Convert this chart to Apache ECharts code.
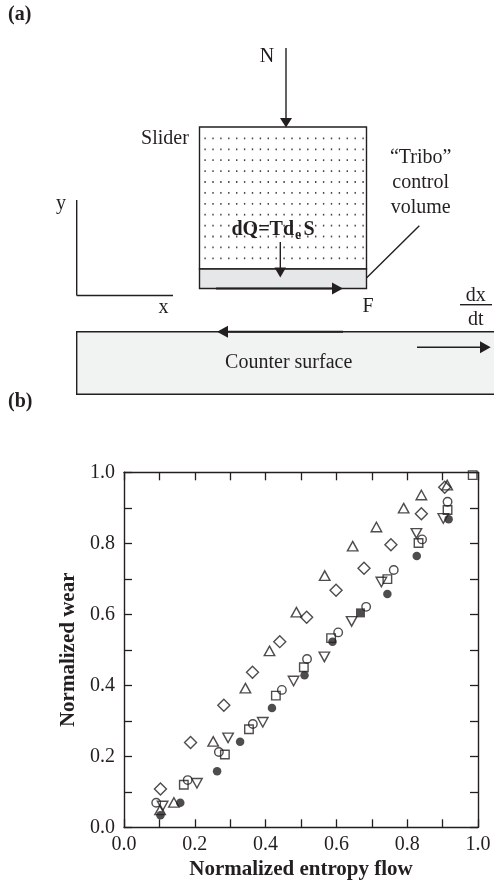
<!DOCTYPE html>
<html>
<head>
<meta charset="utf-8">
<style>html,body{margin:0;padding:0;background:#fff}#c{width:494px;height:880px}</style>
<script src="https://cdn.jsdelivr.net/npm/echarts@6/dist/echarts.min.js"></script>
</head>
<body>
<div id="c"></div>
<script>
const diamonds = [[.103,.108],[.188,.239],[.282,.344],[.363,.437],[.440,.523],[.516,.592],[.599,.668],[.678,.730],[.754,.796],[.840,.883],[.906,.958]];
const upTriangles = [[.102,.049],[.141,.070],[.252,.242],[.343,.392],[.411,.497],[.487,.606],[.567,.709],[.646,.792],[.713,.846],[.790,.899],[.840,.936],[.913,.964]];
const openCircles = [[.091,.069],[.180,.133],[.268,.212],[.364,.291],[.446,.387],[.517,.474],[.605,.549],[.684,.621],[.762,.725],[.842,.811],[.914,.917]];
const openSquares = [[.169,.120],[.285,.205],[.353,.276],[.429,.371],[.508,.451],[.585,.533],[.744,.699],[.832,.801],[.914,.894],[.985,.992]];
const filledSquares = [[.668,.604]];
const downTriangles = [[.109,.060],[.206,.124],[.294,.252],[.392,.296],[.479,.412],[.566,.480],[.643,.580],[.727,.691],[.826,.828],[.902,.870]];
const filledCircles = [[.103,.034],[.159,.069],[.263,.158],[.328,.241],[.418,.336],[.510,.428],[.589,.523],[.744,.657],[.827,.764],[.917,.868]];
const xTitle = 'Normalized entropy flow';
const yTitle = 'Normalized wear';

const INK = '#231f20';
const SERIF = '"Liberation Serif","Times New Roman",serif';
const hollow = {color:'rgba(255,255,255,0)', borderColor:INK, borderWidth:1.4};
const solid = {color:INK, borderColor:INK, borderWidth:0};
function mk(name,data,symbol,size,style,rot){
  return {name,type:'scatter',data,symbol,symbolSize:size,symbolRotate:rot||0,itemStyle:style,silent:true,clip:false,animation:false};
}

function txt(text,x,y,o){
  o=o||{};
  return {type:'text',x,y:y+1.5,silent:true,style:{text,font:(o.bold?'bold ':'')+(o.size||20)+'px '+SERIF,fill:INK,
    textAlign:o.align||'center',textVerticalAlign:'middle'}};
}
function ln(x1,y1,x2,y2,w){
  return {type:'line',silent:true,shape:{x1,y1,x2,y2},style:{stroke:INK,lineWidth:w||1.4}};
}
function head(pts){
  return {type:'polygon',silent:true,shape:{points:pts},style:{fill:INK}};
}
function box(x,y,width,height,fill){
  return {type:'rect',silent:true,shape:{x,y,width,height},style:{fill,stroke:INK,lineWidth:1.4}};
}

const g = [];
g.push(txt('(a)',8,13,{bold:true,align:'left'}));
g.push(txt('(b)',8,400,{bold:true,align:'left'}));
// slider block and tribo band
g.push(box(199.5,127,167,142,'#ffffff'));
g.push(box(199.5,269,167,19.5,'#e6e7e8'));
for(let r=0;r<12;r++){ for(let c=0;c<21;c++){
  g.push({type:'rect',silent:true,shape:{x:204.4+c*7.9,y:137.5+r*10.9,width:1.4,height:1.8},style:{fill:'#444444'}});
}}
// counter surface
g.push(box(76.7,331.7,430,62.5,'#f1f2f2'));
// coordinate axes
g.push(ln(76.7,200,76.7,295.5));
g.push(ln(76.7,295.5,173,295.5));
// N arrow
g.push(ln(286,48,286,120));
g.push(head([[280,118],[292,118],[286,127.5]]));
// heat arrow
g.push(ln(280.3,242,280.3,270));
g.push(head([[274.5,267.5],[286,267.5],[280.3,277.5]]));
// friction arrow on slider
g.push(ln(216,288.5,335,288.5,2));
g.push(head([[332,282.5],[332,294.5],[343,288.5]]));
// friction arrow on counter surface
g.push(ln(226,331.7,343,331.7,2));
g.push(head([[228,325.7],[228,337.7],[217,331.7]]));
// velocity arrow
g.push(ln(417,347.3,482,347.3));
g.push(head([[480,341.3],[480,353.3],[490.7,347.3]]));
// leader line and fraction bar
g.push(ln(366.7,277.7,419.3,225.7));
g.push(ln(460,304.7,492,304.7));
// diagram labels
g.push(txt('N',267,55));
g.push(txt('Slider',165,137));
g.push(txt('\u201CTribo\u201D',420.7,156));
g.push(txt('control',420.7,181.5));
g.push(txt('volume',420.7,206.5));
g.push(txt('y',61,202));
g.push(txt('x',163.5,306));
g.push(txt('F',368,305));
g.push(txt('dx',475.7,294));
g.push(txt('dt',475.7,318));
g.push(txt('Counter surface',288.7,361.5));
g.push(txt('dQ=Td',231.5,228,{bold:true,align:'left'}));
g.push(txt('e',295,234,{bold:true,size:14,align:'left'}));
g.push(txt('S',303.5,228,{bold:true,align:'left'}));

const axisLine = {show:true,onZero:false,lineStyle:{color:INK,width:1.4}};
const tick = {show:true,inside:true,length:8,lineStyle:{color:INK,width:1.3}};
const minor = {show:true,splitNumber:2,length:8,lineStyle:{color:INK,width:1.3}};
const label = {color:INK,fontFamily:SERIF,fontSize:20,formatter:v=>v.toFixed(1)};
const nameStyle = {color:INK,fontFamily:SERIF,fontSize:21,fontWeight:'bold'};
const base = {type:'value',min:0,max:1,interval:.2,splitLine:{show:false},axisLine,axisTick:tick,minorTick:minor,minorSplitLine:{show:false}};

const chart = echarts.init(document.getElementById('c'),null,{renderer:'canvas'});
chart.setOption({
  animation:false,
  backgroundColor:'#ffffff',
  grid:{left:124,right:16,top:472.3,bottom:52.7,containLabel:false,outerBoundsMode:'none'},
  xAxis:[
    Object.assign({},base,{position:'bottom',name:xTitle,nameLocation:'middle',nameGap:32,nameTextStyle:nameStyle,axisLabel:Object.assign({margin:7,showMinLabel:true,showMaxLabel:true},label)}),
    Object.assign({},base,{position:'top',axisLabel:{show:false}})
  ],
  yAxis:[
    Object.assign({},base,{position:'left',name:yTitle,nameLocation:'middle',nameGap:45,nameTextStyle:nameStyle,axisLabel:Object.assign({margin:9,showMinLabel:true,showMaxLabel:true},label)}),
    Object.assign({},base,{position:'right',axisLabel:{show:false}})
  ],
  series:[
    mk('Diamond',diamonds,'diamond',[12,12],hollow),
    mk('Up triangle',upTriangles,'triangle',[10.5,9.5],hollow),
    mk('Open circle',openCircles,'circle',8.5,hollow),
    mk('Open square',openSquares,'rect',8.5,hollow),
    mk('Filled square',filledSquares,'rect',9,solid),
    mk('Down triangle',downTriangles,'triangle',[10.5,9.5],hollow,180),
    mk('Filled circle',filledCircles,'circle',8.5,solid)
  ],
  graphic:{elements:g}
});
</script>
</body>
</html>
